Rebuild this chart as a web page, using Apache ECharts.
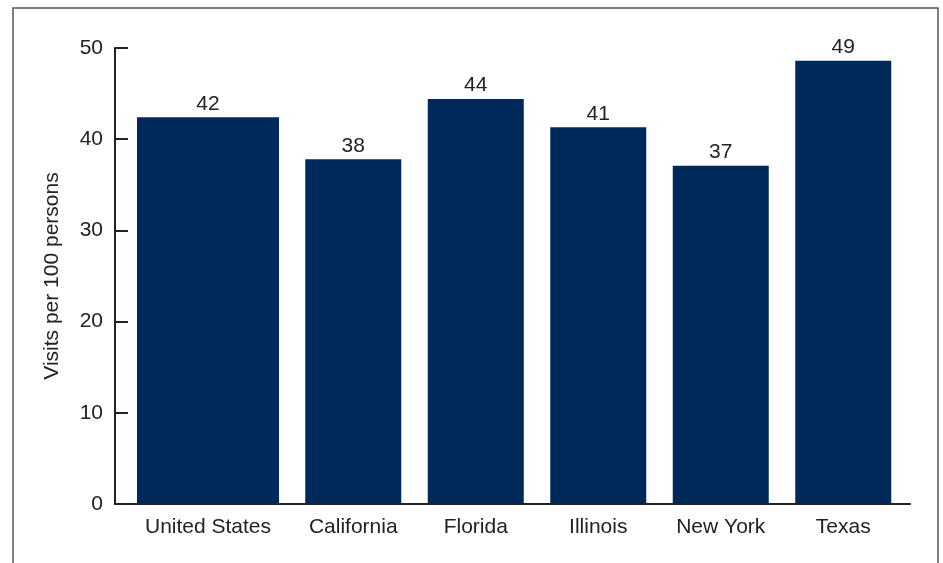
<!DOCTYPE html>
<html>
<head>
<meta charset="utf-8">
<script src="https://cdn.jsdelivr.net/npm/echarts@6/dist/echarts.min.js"></script>
<style>
html,body{margin:0;padding:0;background:#fff;}
#chart{width:943px;height:563px;}
</style>
</head>
<body>
<div id="chart"></div>
<script>
const categories = ['United States', 'California', 'Florida', 'Illinois', 'New York', 'Texas'];
const values = [42.4, 37.8, 44.4, 41.3, 37.1, 48.6];
const yMin = 0, yMax = 50, yInterval = 10;
const yName = 'Visits per 100 persons';

const FONT = 'Liberation Sans, Arial, sans-serif';
const TXT = '#222222';
const BAR = '#00295b';
const FS = 21;

const chart = echarts.init(document.getElementById('chart'), null, {renderer: 'canvas'});
const gTop = 48, gBottom = 59;
const hiddenY = (i) => ({type: 'value', gridIndex: i, min: yMin, max: yMax, interval: yInterval, show: false});
const labelX = (i, data) => ({
  type: 'category', gridIndex: i, data: data,
  axisLine: {show: false}, axisTick: {show: false},
  axisLabel: {color: TXT, fontSize: FS, fontFamily: FONT, margin: 13, interval: 0}
});
const barLabel = {
  show: true, position: 'top', distance: 3, color: TXT, fontSize: FS, fontFamily: FONT,
  formatter: p => String(Math.round(p.value))
};

chart.setOption({
  animation: false,
  backgroundColor: '#fff',
  graphic: [{
    type: 'rect', silent: true,
    shape: {x: 13, y: 8, width: 925, height: 600},
    style: {fill: 'none', stroke: '#555', lineWidth: 1.5}
  }],
  grid: [
    {left: 115, right: 33, top: gTop, bottom: gBottom},
    {left: 115, width: 186, top: gTop, bottom: gBottom},
    {left: 292, width: 612.5, top: gTop, bottom: gBottom}
  ],
  xAxis: [
    {type: 'category', gridIndex: 0, data: [''],
     axisLine: {show: true, lineStyle: {color: TXT, width: 2}},
     axisTick: {show: false}, axisLabel: {show: false}, z: 5},
    labelX(1, categories.slice(0, 1)),
    labelX(2, categories.slice(1))
  ],
  yAxis: [
    {type: 'value', gridIndex: 0, min: yMin, max: yMax, interval: yInterval,
     name: yName, nameLocation: 'middle', nameGap: 52, nameRotate: 90,
     nameTextStyle: {color: TXT, fontSize: FS, fontFamily: FONT},
     axisLine: {show: true, lineStyle: {color: TXT, width: 2}},
     axisTick: {show: true, inside: true, length: 13, lineStyle: {color: TXT, width: 2}},
     axisLabel: {color: TXT, fontSize: FS, fontFamily: FONT, margin: 12},
     splitLine: {show: false}},
    hiddenY(1),
    hiddenY(2)
  ],
  series: [
    {type: 'bar', xAxisIndex: 1, yAxisIndex: 1, data: values.slice(0, 1), barWidth: 142,
     itemStyle: {color: BAR}, label: barLabel},
    {type: 'bar', xAxisIndex: 2, yAxisIndex: 2, data: values.slice(1), barWidth: 96,
     itemStyle: {color: BAR}, label: barLabel}
  ]
});
</script>
</body>
</html>
